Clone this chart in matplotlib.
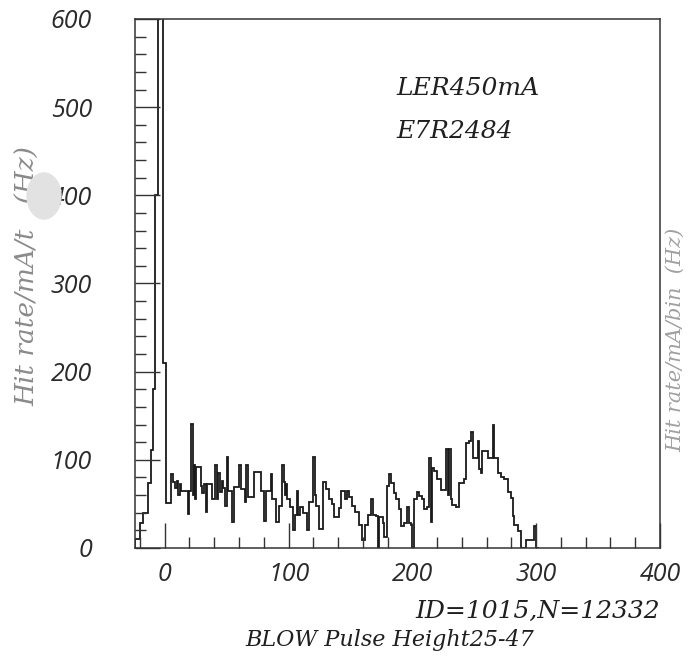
import matplotlib
matplotlib.use("Agg")
import matplotlib.pyplot as plt
from matplotlib.ticker import MultipleLocator
from matplotlib.patches import Ellipse

# Bin edges (pulse height) and hit rate per bin
bin_edges = [
    -24, -20, -17.5, -13.4, -11.3, -9.4, -7.5, -5.8, -1.4, 1.3, 5, 7, 8, 10, 11,
    12, 13, 18.5, 19.5, 21, 22.5, 23.5, 24.5, 25.3, 29, 30.5, 31.5, 33, 34.5, 38,
    41, 42, 43, 44.7, 46, 47, 48.7, 50, 51.3, 54, 56, 60, 61.8, 64.5, 65.8, 67,
    72.4, 77.6, 80, 81.6, 85.5, 86.8, 89.5, 92, 94.7, 96, 97, 98, 99, 101, 104,
    105, 107, 108, 109, 112, 115, 116.5, 120, 121, 122, 125, 127.6, 130, 133,
    135.5, 137, 141, 142, 146, 147.5, 149, 151, 154, 156.6, 159, 162, 164.5,
    167, 168, 171, 172, 173, 176, 177.5, 179.5, 181, 183, 185, 186.5, 189,
    190.5, 193, 196, 197, 198.6, 200, 201, 204, 205.4, 208, 209.5, 212, 213.5,
    215, 216, 217.6, 220, 223, 227, 228.5, 229.7, 231, 232.4, 235, 237.8, 242,
    243, 246, 247.3, 248.6, 252.7, 254, 255.4, 256.5, 260.8, 264.9, 266, 269,
    271.6, 274, 277, 279.7, 281, 282.4, 285, 288, 292, 298.6, 300, 302,
]
hit_rate = [
    10, 28, 40, 74, 111, 180, 400, 720, 210, 51, 84, 75, 68, 76,
    60, 72, 65, 38, 65, 141, 60, 94, 56, 92, 70, 62, 72, 41, 73,
    56, 94, 56, 85, 64, 76, 68, 48, 103, 65, 29, 69, 94, 67, 52, 94,
    58, 86, 65, 31, 65, 84, 56, 29, 48, 94, 75, 60, 72, 55, 47,
    20, 37, 65, 37, 47, 40, 20, 52, 103, 60, 48, 22, 75, 67,
    56, 50, 35, 45, 65, 55, 65, 58, 48, 41, 26, 9, 26,
    37, 56, 37, 36, 0, 35, 28, 12, 70, 84, 74, 62, 55,
    44, 25, 28, 47, 28, 26, 0, 55, 64, 59, 55, 44, 47,
    102, 30, 91, 87, 78, 66, 112, 60, 112, 55, 49, 47, 74,
    78, 119, 121, 131, 102, 121, 90, 85, 110, 102, 140, 102, 85,
    81, 78, 64, 57, 36, 26, 19, 0, 9, 25, 0,
]

x_ticks = [0, 100, 200, 300, 400]
y_ticks = [0, 100, 200, 300, 400, 500, 600]

ink = "#1a1a1a"
fig = plt.figure(figsize=(6.89, 6.61), dpi=100)
ax = fig.add_axes([0.1959, 0.1710, 0.762, 0.8003])

ax.stairs(hit_rate, bin_edges, color=ink, lw=1.3, baseline=0)

ax.set_xlim(-24, 400)
ax.set_ylim(0, 600)

for side in ["top", "right", "left", "bottom"]:
    ax.spines[side].set_color("#333333")
    ax.spines[side].set_linewidth(1.1)

ax.set_xticks(x_ticks)
ax.set_yticks(y_ticks)
ax.xaxis.set_minor_locator(MultipleLocator(20))
ax.yaxis.set_minor_locator(MultipleLocator(20))
ax.tick_params(which="both", direction="in", top=False, right=False,
               color="#333333", width=1.0)
ax.tick_params(which="major", length=18)
ax.tick_params(which="minor", length=8)
ax.tick_params(axis="x", which="major", pad=10)
ax.tick_params(axis="y", which="major", pad=31)

tick_font = dict(family="Open Sans", style="italic", size=18, color="#2a2a2a")
for lab in ax.get_xticklabels() + ax.get_yticklabels():
    lab.set(**tick_font)

serif = dict(family="DejaVu Serif", style="italic", color="#1f1f1f")
ax.text(187, 514, "LER450mA", fontsize=18, **serif)
ax.text(187, 465, "E7R2484", fontsize=18, **serif)

fig.text(660 / 689, 1 - 611 / 661, "ID=1015,N=12332", ha="right", va="center",
         fontsize=18, **serif)
fig.text(245 / 689, 1 - 640 / 661, "BLOW Pulse Height25-47", ha="left",
         va="center", fontsize=16, **serif)

label_font = dict(rotation=90, ha="center", va="center", family="DejaVu Serif",
                  style="italic")
fig.text(28 / 689, 1 - 276 / 661, "Hit rate/mA/t   (Hz)", fontsize=19,
         color="#8a8a8a", **label_font)
# label of the neighbouring plot, showing at the right edge of the scan
fig.text(676 / 689, 1 - 340 / 661, "Hit rate/mA/bin  (Hz)", fontsize=15,
         color="#a0a0a0", **label_font)

# hole-punch shadow on the scan, lying over the axis label
fig.patches.append(Ellipse((44 / 689, 1 - 196 / 661), 34 / 689, 46 / 661,
                           transform=fig.transFigure, color="#e2e2e2",
                           zorder=5))

fig.savefig("out.png", dpi=100)
